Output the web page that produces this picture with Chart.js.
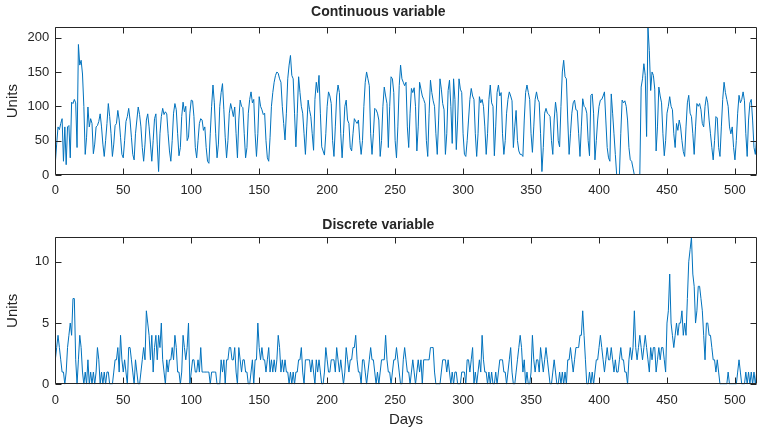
<!DOCTYPE html>
<html lang="en">
<head>
<meta charset="UTF-8">
<title>Continuous and discrete variable</title>
<script src="https://cdn.jsdelivr.net/npm/chart.js@4.4.1/dist/chart.umd.min.js"></script>
<style>
    html, body { margin: 0; padding: 0; background: #ffffff; }
    #wrap { position: relative; width: 758px; height: 429px; overflow: hidden; }
    #topChart { position: absolute; left: 0; top: 0; }
    #bottomChart { position: absolute; left: 0; top: 205px; }
</style>
</head>
<body>
<div id="wrap">
    <canvas id="topChart" width="758" height="205"></canvas>
    <canvas id="bottomChart" width="758" height="224"></canvas>
</div>
<script>
// values, one per day (day 0 .. 516)
var continuousUnits = [
    17,45,70,66,75,82,20,70,15,70,
    72,25,106,104,110,105,40,190,160,167,
    147,100,30,55,99,70,82,75,31,45,
    70,72,78,89,70,45,27,50,75,104,
    85,60,27,45,72,75,94,80,55,30,
    25,50,78,85,97,80,55,30,22,60,
    80,99,88,70,40,20,45,80,89,70,
    45,20,50,82,89,45,5,60,85,97,
    88,92,89,60,35,20,50,90,104,95,
    60,28,40,85,106,92,100,50,55,90,
    109,108,85,40,25,50,75,82,80,65,
    70,40,20,17,60,100,131,105,60,25,
    45,100,120,133,95,55,25,50,90,104,
    95,85,99,60,25,80,109,100,98,60,
    25,40,90,110,121,105,110,60,27,60,
    114,100,95,88,90,50,25,20,55,100,
    120,135,145,150,148,140,135,100,75,51,
    90,140,160,174,145,140,90,41,90,143,
    120,100,90,60,30,70,109,95,85,60,
    36,110,135,120,145,90,41,35,29,60,
    100,121,115,104,50,27,70,115,131,120,
    60,25,60,100,109,80,75,40,35,60,
    82,78,75,80,50,30,50,100,135,150,
    140,130,60,30,60,97,95,90,80,27,
    50,100,128,115,104,40,100,143,140,120,
    50,25,70,130,160,140,135,130,135,70,
    40,90,126,120,127,100,35,70,135,125,
    115,110,104,50,27,90,138,120,108,100,
    60,30,80,140,125,104,95,30,60,123,
    138,100,46,140,110,37,80,140,125,120,
    60,30,27,50,80,110,126,115,110,60,
    27,60,114,105,110,100,70,30,60,110,
    131,105,100,28,70,120,131,115,120,60,
    30,50,90,110,121,115,108,40,70,94,
    50,35,30,30,27,80,120,131,120,110,
    60,33,70,110,121,110,106,60,5,40,
    90,97,90,88,85,50,30,80,106,90,
    50,41,100,150,167,143,140,80,30,60,
    90,105,109,95,94,60,27,70,111,100,
    98,90,50,28,116,118,90,22,50,80,
    100,109,110,115,121,80,40,25,20,118,
    90,60,30,0,0,0,60,109,105,108,
    100,80,40,22,20,10,0,0,0,0,
    0,128,140,162,145,56,215,181,123,150,
    145,125,35,70,128,115,105,60,28,50,
    90,100,114,100,95,60,40,75,65,80,
    70,50,34,27,70,105,116,90,85,60,
    30,70,104,100,104,95,75,70,100,114,
    105,80,60,40,22,50,85,83,40,27,
    70,110,135,120,110,100,70,60,70,40,
    22,50,90,116,105,110,121,108,60,27,
    80,105,110,80,40,30,55
];

var discreteUnits = [
    2,3,4,3,2,1,1,0,1,3,
    4,5,4,7,7,2,0,2,4,3,
    1,0,1,0,2,0,1,0,1,0,
    1,3,2,0,1,0,1,0,1,1,
    0,0,0,1,2,2,3,1,4,2,
    1,2,1,0,3,3,2,1,0,2,
    1,0,0,1,2,3,2,6,5,4,
    2,4,1,3,4,2,4,3,5,2,
    1,0,2,1,2,2,3,2,4,3,
    1,1,0,1,4,3,2,3,5,0,
    1,2,2,1,1,2,1,3,1,1,
    1,1,1,1,0,1,1,1,1,0,
    0,0,2,1,2,0,2,2,3,3,
    2,2,3,1,0,3,2,1,2,2,
    1,1,0,0,1,2,0,2,2,5,
    3,2,3,2,2,1,2,3,1,2,
    1,2,1,2,4,3,1,2,1,2,
    1,1,0,1,0,1,0,1,1,2,
    2,3,1,0,2,2,2,2,1,2,
    1,0,2,1,2,1,0,0,1,3,
    2,1,1,2,2,2,1,3,2,1,
    2,1,0,1,3,2,1,2,2,3,
    3,4,2,1,1,0,2,2,1,0,
    1,2,3,2,2,1,0,1,0,1,
    2,2,2,4,2,1,1,0,1,2,
    2,3,2,1,0,0,2,3,2,1,
    1,0,1,2,1,0,1,2,1,2,
    0,2,2,2,2,2,3,3,3,1,
    0,0,0,0,1,2,2,2,1,2,
    1,0,1,0,1,1,0,0,0,1,
    1,1,0,2,2,1,2,3,0,1,
    0,1,2,1,4,2,1,1,0,1,
    0,1,0,0,1,0,1,2,2,2,
    1,1,0,1,2,3,1,0,0,1,
    2,3,4,3,1,2,0,1,0,0,
    1,4,2,1,2,2,1,3,2,1,
    2,3,2,1,0,0,1,2,1,0,
    0,1,0,1,0,1,0,2,2,3,
    2,1,2,3,3,3,4,4,6,4,
    2,0,0,1,0,1,0,1,2,2,
    3,4,3,2,1,2,3,2,2,3,
    2,1,2,1,1,2,3,2,2,1,
    1,0,2,3,2,3,6,3,2,3,
    4,3,2,3,4,3,2,1,3,2,
    3,3,1,2,3,2,3,3,2,1,
    5,6,9,5,4,3,4,5,4,5,
    5,6,4,5,4,7,10,11,12,9,
    8,5,6,8,8,7,6,4,2,5,
    5,4,4,3,2,2,1,2,1,0,
    0,0,0,0,0,1,0,0,0,0,
    0,0,1,2,1,0,0,0,1,0,
    1,0,1,0,1,0,1
];

var dayTicks = [0, 50, 100, 150, 200, 250, 300, 350, 400, 450, 500];
var continuousTicks = [0, 50, 100, 150, 200];
var discreteTicks = [0, 5, 10];

var LINE_COLOR = "#0072BD";
var AXIS_COLOR = "#262626";
var FONT = "'Liberation Sans', Arial, Helvetica, sans-serif";
var TICK_LEN = 6;
var PLOT_LEFT = 55.3;
var PLOT_RIGHT = 756.7;

// box around the plot area plus inward tick marks on all four sides (matlab look)
var axesBoxPlugin = {
    id: "axesBox",
    afterDraw: function(chart) {
        var ctx = chart.ctx;
        var a = chart.chartArea;
        var xs = chart.scales.x;
        var ys = chart.scales.y;
        var left = Math.round(a.left) + 0.5, right = Math.round(a.right) - 0.5;
        var top = Math.round(a.top) + 0.5, bottom = Math.round(a.bottom) - 0.5;
        ctx.save();
        ctx.strokeStyle = AXIS_COLOR;
        ctx.lineWidth = 1;
        ctx.beginPath();
        xs.ticks.forEach(function(t) {
            var px = Math.round(xs.getPixelForValue(t.value)) + 0.5;
            ctx.moveTo(px, bottom); ctx.lineTo(px, bottom - TICK_LEN);
            ctx.moveTo(px, top); ctx.lineTo(px, top + TICK_LEN);
        });
        ys.ticks.forEach(function(t) {
            var py = Math.round(ys.getPixelForValue(t.value)) + 0.5;
            ctx.moveTo(left, py); ctx.lineTo(left + TICK_LEN, py);
            ctx.moveTo(right, py); ctx.lineTo(right - TICK_LEN, py);
        });
        ctx.rect(left, top, right - left, bottom - top);
        ctx.stroke();
        ctx.restore();
    }
};

function toPoints(values) {
    return values.map(function(v, i) { return { x: i, y: v }; });
}

function makeChart(canvasId, values, yMax, yTicks, title, titlePad, plotBottom, showDays) {
    var canvas = document.getElementById(canvasId);
    return new Chart(canvas.getContext("2d"), {
        type: "line",
        data: {
            datasets: [{
                data: toPoints(values),
                borderColor: LINE_COLOR,
                borderWidth: 1,
                pointRadius: 0,
                tension: 0,
                fill: false
            }]
        },
        plugins: [axesBoxPlugin],
        options: {
            responsive: false,
            animation: false,
            events: [],
            layout: { padding: { left: 0, right: canvas.width - PLOT_RIGHT, top: 0, bottom: 0 } },
            plugins: {
                legend: { display: false },
                tooltip: { enabled: false },
                title: {
                    display: true,
                    text: title,
                    color: AXIS_COLOR,
                    font: { family: FONT, size: 14, weight: "bold", lineHeight: 1.2 },
                    padding: titlePad
                }
            },
            scales: {
                x: {
                    type: "linear",
                    min: 0,
                    max: values.length - 1,
                    grid: { display: false, drawTicks: false },
                    border: { display: false },
                    afterBuildTicks: function(scale) {
                        scale.ticks = dayTicks.map(function(v) { return { value: v }; });
                    },
                    afterFit: function(scale) {
                        scale.height = canvas.height - plotBottom;
                    },
                    ticks: {
                        color: AXIS_COLOR,
                        font: { family: FONT, size: 13 },
                        padding: 8,
                        maxRotation: 0,
                        autoSkip: false
                    },
                    title: {
                        display: showDays,
                        text: "Days",
                        color: AXIS_COLOR,
                        font: { family: FONT, size: 15, lineHeight: 1.2 },
                        padding: { top: 0, bottom: 0 }
                    }
                },
                y: {
                    min: 0,
                    max: yMax,
                    grid: { display: false, drawTicks: false },
                    border: { display: false },
                    afterBuildTicks: function(scale) {
                        scale.ticks = yTicks.map(function(v) { return { value: v }; });
                    },
                    afterFit: function(scale) {
                        scale.width = PLOT_LEFT;
                    },
                    ticks: {
                        color: AXIS_COLOR,
                        font: { family: FONT, size: 13 },
                        padding: 6
                    },
                    title: {
                        display: true,
                        text: "Units",
                        color: AXIS_COLOR,
                        font: { family: FONT, size: 15, lineHeight: 1.2 },
                        padding: { top: 4, bottom: 0 }
                    }
                }
            }
        }
    });
}

makeChart("topChart", continuousUnits, 215, continuousTicks, "Continuous variable",
    { top: 3.6, bottom: 6.9 }, 175, false);
makeChart("bottomChart", discreteUnits, 12, discreteTicks, "Discrete variable",
    { top: 11.6, bottom: 3.9 }, 179.3, true);
</script>
</body>
</html>
